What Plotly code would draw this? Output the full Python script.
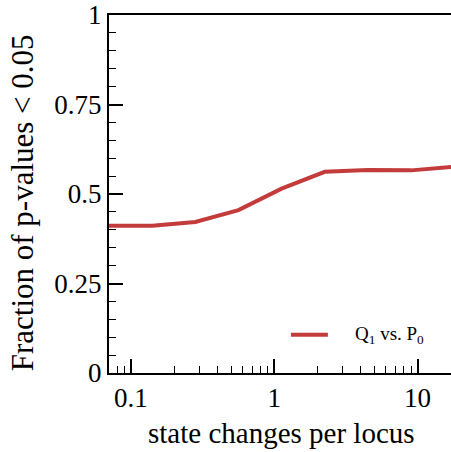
import plotly.graph_objects as go

x_vals = [0.0703125, 0.140625, 0.28125, 0.5625, 1.125, 2.25, 4.5, 9, 18]
y_vals = [0.411, 0.411, 0.422, 0.455, 0.515, 0.562, 0.567, 0.566, 0.576]
series_name = "Q<sub>1</sub> vs. P<sub>0</sub>"
x_title = "state changes per locus"
y_title = "Fraction of p-values < 0.05"
y_ticks = [0, 0.25, 0.5, 0.75, 1]
y_ticklabels = ["0", "0.25", "0.5", "0.75", "1"]
x_ticks = [0.1, 1, 10]
x_ticklabels = ["0.1", "1", "10"]

FONT = "Liberation Serif, Times New Roman, DejaVu Serif, serif"
COLOR = "#C43B3B"
fig = go.Figure()
fig.add_trace(go.Scatter(x=x_vals, y=y_vals, mode="lines", name=series_name,
                         line=dict(color=COLOR, width=4), showlegend=False))
fig.update_layout(
    width=451, height=452,
    margin=dict(l=109, r=0, t=8, b=79),
    paper_bgcolor="white", plot_bgcolor="white",
    font=dict(family=FONT, size=27, color="black"),
    xaxis=dict(type="log", range=[-1.153, 1.233], showline=True, linecolor="black",
               linewidth=2, mirror=True, showgrid=False, zeroline=False,
               ticks="inside", ticklen=14, tickwidth=1.5, tickcolor="black",
               tickvals=x_ticks, ticktext=x_ticklabels, ticklabeloverflow="allow",
               minor=dict(ticks="inside", ticklen=7, tickcolor="black", tickwidth=1, dtick="D1", showgrid=False)),
    yaxis=dict(range=[0, 1], showline=True, linecolor="black", linewidth=2,
               showgrid=False, zeroline=False,
               ticks="inside", ticklen=14, tickwidth=1.5, tickcolor="black",
               tickvals=y_ticks, ticktext=y_ticklabels, ticklabeloverflow="allow",
               minor=dict(ticks="inside", ticklen=7, tickcolor="black", tickwidth=1, dtick=0.05, showgrid=False)),
    shapes=[dict(type="line", xref="paper", yref="paper", x0=0.532, x1=0.640, y0=0.107, y1=0.107,
                 line=dict(color=COLOR, width=4))],
    annotations=[
        dict(text=y_title, xref="paper", yref="paper", x=0, y=0.474, xanchor="center", yanchor="middle",
             xshift=-87, textangle=-90, showarrow=False, font=dict(family=FONT, size=31)),
        dict(text=x_title, xref="paper", yref="paper", x=0.503, y=0, xanchor="center", yanchor="bottom",
             yshift=-78, showarrow=False, font=dict(family=FONT, size=29)),
        dict(text=series_name, xref="paper", yref="paper", x=0.713, y=0.107, xanchor="left", yanchor="middle",
             showarrow=False, font=dict(family=FONT, size=19)),
    ],
)
fig.write_html("out.html")
